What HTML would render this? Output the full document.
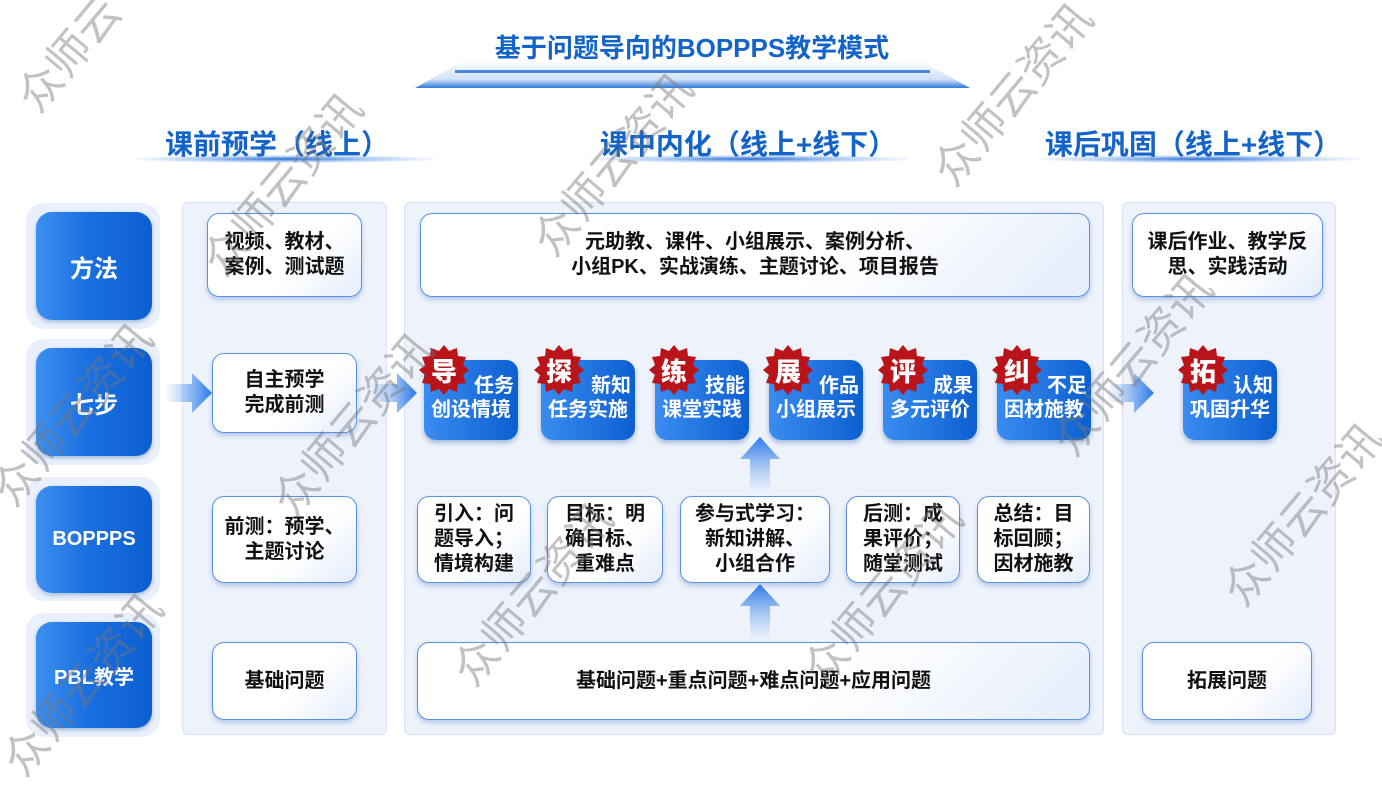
<!DOCTYPE html>
<html><head><meta charset="utf-8"><style>
*{margin:0;padding:0;box-sizing:border-box}
body{width:1382px;height:756px;background:#fff;position:relative;overflow:hidden;font-family:"Liberation Sans","Noto Sans CJK SC",sans-serif;font-weight:bold;color:#111}
.a{position:absolute}
.halo{position:absolute;background:#e9f0fb;border-radius:18px}
.lb{position:absolute;border-radius:16px;background:linear-gradient(90deg,#3d8ff0 0%,#1a6fe0 45%,#0c5fd0 100%);color:#fff;display:flex;align-items:center;justify-content:center;font-size:24px;box-shadow:0 2px 4px rgba(0,60,150,.3)}
.panel{position:absolute;background:#edf2fb;border:1px solid #d6e1f2;border-radius:6px}
.card{position:absolute;background:linear-gradient(135deg,#fff 60%,#e4edfb);border:1.5px solid #5b92e0;border-radius:12px;display:flex;align-items:center;justify-content:center;text-align:center;font-size:20px;line-height:25px;box-shadow:0 3px 5px rgba(60,110,200,.3)}
.step{position:absolute;width:94px;height:80px;border-radius:12px;background:linear-gradient(90deg,#3a8cf0,#0c5fd0);color:#fff;font-size:20px;line-height:24px;text-align:right;padding:14px 4px 0 0;box-shadow:0 3px 5px rgba(0,60,150,.3)}
.step span{display:block;text-align:center;padding-left:4px;white-space:nowrap}
.badge{position:absolute;width:50px;height:50px;color:#fff;font-size:26px;display:flex;align-items:center;justify-content:center}
.badge svg{position:absolute;left:0;top:0}
.badge b{position:relative}
.hdr{position:absolute;color:#1463c8;font-size:28px;text-align:center;white-space:nowrap}
.ul{position:absolute;height:8px;background:radial-gradient(ellipse at center,#2f6fd0 0%,rgba(120,170,240,.6) 40%,rgba(255,255,255,0) 75%)}
.wm{position:absolute;color:rgba(120,120,120,.45);font-size:44px;font-weight:normal;transform:rotate(-50deg);white-space:nowrap}
</style></head><body>

<div class="a" style="left:415px;top:60px;width:555px;height:28px;clip-path:polygon(9% 0,91% 0,100% 100%,0 100%);background:linear-gradient(180deg,rgba(255,255,255,0),#cfe0f8 70%,#2f7ad8 100%)"></div>
<div class="a" style="left:455px;top:70px;width:475px;height:3px;background:#4a88dc"></div>
<div class="hdr" style="left:392px;top:28px;width:600px;font-size:26px">基于问题导向的BOPPPS教学模式</div>

<div class="ul" style="left:135px;top:155px;width:300px"></div>
<div class="hdr" style="left:127px;top:123px;width:300px">课前预学（线上）</div>
<div class="ul" style="left:590px;top:155px;width:320px"></div>
<div class="hdr" style="left:588px;top:123px;width:320px">课中内化（线上+线下）</div>
<div class="ul" style="left:1040px;top:155px;width:320px"></div>
<div class="hdr" style="left:1038px;top:123px;width:310px">课后巩固（线上+线下）</div>

<div class="halo" style="left:26px;top:203px;width:134px;height:126px"></div>
<div class="lb" style="left:36px;top:212px;width:116px;height:108px">方法</div>
<div class="halo" style="left:26px;top:339px;width:134px;height:126px"></div>
<div class="lb" style="left:36px;top:348px;width:116px;height:108px">七步</div>
<div class="halo" style="left:26px;top:477px;width:134px;height:124px"></div>
<div class="lb" style="left:36px;top:486px;width:116px;height:107px;font-size:20px">BOPPPS</div>
<div class="halo" style="left:26px;top:613px;width:134px;height:124px"></div>
<div class="lb" style="left:36px;top:622px;width:116px;height:106px;font-size:20px">PBL教学</div>

<div class="panel" style="left:182px;top:202px;width:205px;height:533px"></div>
<div class="panel" style="left:404px;top:202px;width:700px;height:533px"></div>
<div class="panel" style="left:1122px;top:202px;width:214px;height:533px"></div>

<svg class="a" style="left:160px;top:370px" width="60" height="46"><defs><linearGradient id="g1"><stop offset="0" stop-color="#5a9af0" stop-opacity="0"/><stop offset="1" stop-color="#2a78e8"/></linearGradient></defs><polygon points="5,14 32,14 32,3 52,23 32,43 32,32 5,32" fill="url(#g1)"/></svg>
<svg class="a" style="left:365px;top:370px" width="60" height="46"><polygon points="5,14 32,14 32,3 52,23 32,43 32,32 5,32" fill="url(#g1)"/></svg>
<svg class="a" style="left:1102px;top:370px" width="60" height="46"><polygon points="5,14 32,14 32,3 52,23 32,43 32,32 5,32" fill="url(#g1)"/></svg>
<svg class="a" style="left:735px;top:435px" width="50" height="60"><defs><linearGradient id="g2" x1="0" y1="1" x2="0" y2="0"><stop offset="0" stop-color="#7aaef0" stop-opacity="0"/><stop offset="1" stop-color="#2a78e8"/></linearGradient></defs><polygon points="25,2 45,24 35,24 35,58 15,58 15,24 5,24" fill="url(#g2)"/></svg>
<svg class="a" style="left:735px;top:582px" width="50" height="60"><polygon points="25,2 45,24 35,24 35,58 15,58 15,24 5,24" fill="url(#g2)"/></svg>

<div class="card" style="left:207px;top:213px;width:155px;height:84px">视频、教材、<br>案例、测试题</div>
<div class="card" style="left:212px;top:353px;width:145px;height:80px">自主预学<br>完成前测</div>
<div class="card" style="left:212px;top:496px;width:145px;height:87px">前测：预学、<br>主题讨论</div>
<div class="card" style="left:212px;top:642px;width:145px;height:78px">基础问题</div>

<div class="card" style="left:420px;top:213px;width:670px;height:84px">元助教、课件、小组展示、案例分析、<br>小组PK、实战演练、主题讨论、项目报告</div>

<div class="step" style="left:424px;top:360px">任务<span>创设情境</span></div>
<div class="step" style="left:541px;top:360px">新知<span>任务实施</span></div>
<div class="step" style="left:655px;top:360px">技能<span>课堂实践</span></div>
<div class="step" style="left:769px;top:360px">作品<span>小组展示</span></div>
<div class="step" style="left:883px;top:360px">成果<span>多元评价</span></div>
<div class="step" style="left:997px;top:360px">不足<span>因材施教</span></div>
<div class="step" style="left:1183px;top:360px">认知<span>巩固升华</span></div>

<svg width="0" height="0" style="position:absolute"><defs><polygon id="st" points="25,0 30,6 38,3 39,11 47,12 44,20 50,25 44,30 47,38 39,39 38,47 30,44 25,50 20,44 12,47 11,39 3,38 6,30 0,25 6,20 3,12 11,11 12,3 20,6" fill="#b8141a"/></defs></svg>
<div class="badge" style="left:419px;top:345px"><svg width="50" height="50"><use href="#st"/></svg><b>导</b></div>
<div class="badge" style="left:534px;top:345px"><svg width="50" height="50"><use href="#st"/></svg><b>探</b></div>
<div class="badge" style="left:649px;top:345px"><svg width="50" height="50"><use href="#st"/></svg><b>练</b></div>
<div class="badge" style="left:763px;top:345px"><svg width="50" height="50"><use href="#st"/></svg><b>展</b></div>
<div class="badge" style="left:878px;top:345px"><svg width="50" height="50"><use href="#st"/></svg><b>评</b></div>
<div class="badge" style="left:992px;top:345px"><svg width="50" height="50"><use href="#st"/></svg><b>纠</b></div>
<div class="badge" style="left:1178px;top:345px"><svg width="50" height="50"><use href="#st"/></svg><b>拓</b></div>

<div class="card" style="left:417px;top:496px;width:114px;height:87px">引入：问<br>题导入；<br>情境构建</div>
<div class="card" style="left:547px;top:496px;width:116px;height:87px">目标：明<br>确目标、<br>重难点</div>
<div class="card" style="left:680px;top:496px;width:150px;height:87px">参与式学习：<br>新知讲解、<br>小组合作</div>
<div class="card" style="left:846px;top:496px;width:114px;height:87px">后测：成<br>果评价；<br>随堂测试</div>
<div class="card" style="left:977px;top:496px;width:113px;height:87px">总结：目<br>标回顾；<br>因材施教</div>

<div class="card" style="left:417px;top:642px;width:673px;height:78px">基础问题+重点问题+难点问题+应用问题</div>

<div class="card" style="left:1132px;top:213px;width:191px;height:84px">课后作业、教学反<br>思、实践活动</div>
<div class="card" style="left:1142px;top:642px;width:170px;height:78px">拓展问题</div>

<div class="wm" style="left:0px;top:20px">众师云</div>
<div class="wm" style="left:170px;top:150px">众师云资讯</div>
<div class="wm" style="left:-40px;top:380px">众师云资讯</div>
<div class="wm" style="left:240px;top:390px">众师云资讯</div>
<div class="wm" style="left:500px;top:130px">众师云资讯</div>
<div class="wm" style="left:420px;top:560px">众师云资讯</div>
<div class="wm" style="left:770px;top:560px">众师云资讯</div>
<div class="wm" style="left:900px;top:60px">众师云资讯</div>
<div class="wm" style="left:1020px;top:330px">众师云资讯</div>
<div class="wm" style="left:1190px;top:480px">众师云资讯</div>
<div class="wm" style="left:-30px;top:650px">众师云资讯</div>
</body></html>
